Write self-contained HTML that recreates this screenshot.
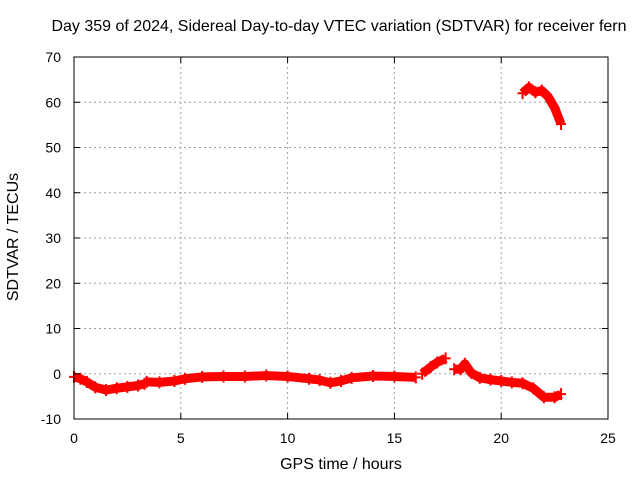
<!DOCTYPE html>
<html><head><meta charset="utf-8"><style>
body{margin:0;background:#fff;}
svg{display:block;font-family:"Liberation Sans",sans-serif;}
</style></head><body>
<svg id="chart" width="640" height="480"></svg>
<script>
const xTicks=[0,5,10,15,20,25];
const yTicks=[-10,0,10,20,30,40,50,60,70];
const seg1T=[0,0.3,0.6,1.0,1.5,2.0,2.5,3.0,3.3];
const seg1V=[-0.7,-1.1,-1.8,-3,-3.6,-3.2,-2.9,-2.6,-2.2];
const seg2T=[3.4,4.0,4.7,5.2,6,7,8,9,10,11,11.5,12,12.5,13,14,15,16];
const seg2V=[-1.8,-1.9,-1.6,-1.1,-0.7,-0.6,-0.6,-0.4,-0.6,-1.1,-1.4,-2,-1.6,-0.9,-0.5,-0.6,-0.8];
const seg3T=[16.3,16.7,17.0,17.4];
const seg3V=[0,1.5,2.5,3.4];
const seg4T=[17.8,18.1,18.3,18.6,19,19.5,20,20.5,21,21.5,22,22.5,22.8];
const seg4V=[1,1,2.2,0.2,-0.9,-1.3,-1.6,-1.9,-2.1,-3.2,-5.2,-5.2,-4.5];
const seg5T=[21.0,21.3,21.6,21.9,22.2,22.5,22.8];
const seg5V=[62,63.3,62.2,62.6,61.2,58.8,55.2];
const segments=[[seg1T,seg1V],[seg2T,seg2V],[seg3T,seg3V],[seg4T,seg4V],[seg5T,seg5V]];
const X0=74,X1=608,Y0=419,Y1=57;
const sx=t=>X0+(t-0)/(25-0)*(X1-X0);
const sy=v=>Y0-(v+10)/(80)*(Y0-Y1);
const NS="http://www.w3.org/2000/svg";
const svg=document.getElementById('chart');
function mk(tag,attrs,parent){const e=document.createElementNS(NS,tag);for(const k in attrs)e.setAttribute(k,attrs[k]);(parent||svg).appendChild(e);return e;}
xTicks.forEach(t=>{if(t>0&&t<25){const l=mk('line',{x1:sx(t),x2:sx(t),y1:Y1,y2:Y0,stroke:'#a0a0a0','stroke-dasharray':'2,3'});

}});
yTicks.forEach(v=>{if(v>-10&&v<70){const l=mk('line',{x1:X0,x2:X1,y1:sy(v),y2:sy(v),stroke:'#a0a0a0','stroke-dasharray':'2,3'});

}});
segments.forEach(([T,V])=>{
 const pts=T.map((t,i)=>sx(t)+','+sy(V[i])).join(' ');
 const p=mk('polyline',{points:pts,fill:'none',stroke:'#ff0000','stroke-width':9,'stroke-linejoin':'round'});
 
 
 T.forEach((t,i)=>{const x=sx(t),y=sy(V[i]);
  const m=mk('path',{d:`M${x-5},${y}h10M${x},${y-6}v12`,stroke:'#ff0000','stroke-width':2});
  
  });
});
const f=mk('rect',{x:X0,y:Y1,width:X1-X0,height:Y0-Y1,fill:'none',stroke:'#000'});


xTicks.forEach(t=>{mk('line',{x1:sx(t),x2:sx(t),y1:Y0,y2:Y0-6,stroke:'#000'});mk('line',{x1:sx(t),x2:sx(t),y1:Y1,y2:Y1+6,stroke:'#000'});
 const tx=mk('text',{x:sx(t),y:Y0+24,'text-anchor':'middle','font-size':14,fill:'#000'});tx.textContent=t;
 
 });
yTicks.forEach(v=>{mk('line',{x1:X0,x2:X0+6,y1:sy(v),y2:sy(v),stroke:'#000'});mk('line',{x1:X1,x2:X1-6,y1:sy(v),y2:sy(v),stroke:'#000'});
 const tx=mk('text',{x:X0-13,y:sy(v)+5,'text-anchor':'end','font-size':14,fill:'#000'});tx.textContent=v;
 
 });
</script>
<div style="position:absolute;left:0;top:0;width:640px;height:480px;pointer-events:none;font-family:'Liberation Sans',sans-serif;font-size:16px;">
<div style="position:absolute;left:0;width:678px;top:18px;text-align:center;white-space:nowrap;">Day 359 of 2024, Sidereal Day-to-day VTEC variation (SDTVAR) for receiver fern</div>
<div style="position:absolute;left:74px;width:534px;top:456px;text-align:center;">GPS time / hours</div>
<div style="position:absolute;left:-86px;top:228px;width:200px;text-align:center;transform:rotate(-90deg);">SDTVAR / TECUs</div>
</div>
</body></html>
